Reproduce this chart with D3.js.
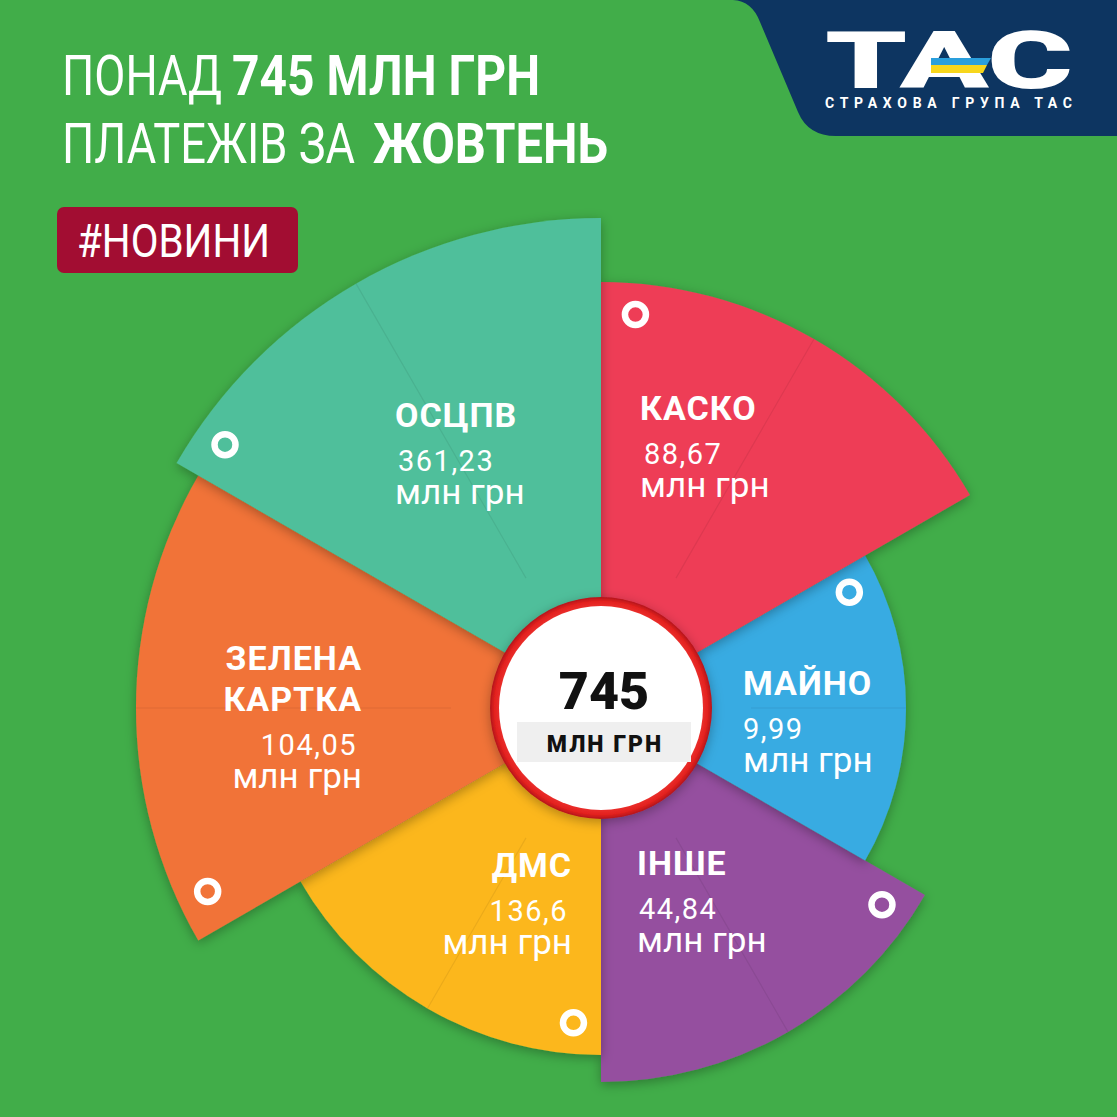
<!DOCTYPE html>
<html>
<head>
<meta charset="utf-8">
<script src="https://cdn.jsdelivr.net/npm/d3@7"></script>
<style>
  body { margin: 0; background: #41ad49; }
  svg { display: block; font-family: Roboto, "DejaVu Sans", sans-serif; }
</style>
</head>
<body>
<svg id="chart" width="1117" height="1117"></svg>
<script>
// chart data
const categories = ["КАСКО", "МАЙНО", "ІНШЕ", "ДМС", "ЗЕЛЕНА КАРТКА", "ОСЦПВ"];
const values = [88.67, 9.99, 44.84, 136.6, 104.05, 361.23];
const valueLabels = ["88,67", "9,99", "44,84", "136,6", "104,05", "361,23"];
const totalLabel = "745";
const unitLabel = "млн грн";

// styling / layout
const colors = ["#ee3d57", "#37abe2", "#954f9f", "#fcb71e", "#f17337", "#50bf9b"];
const outerRadii = [426, 305, 374, 347, 465, 490];
const drawOrder = ["ІНШЕ", "МАЙНО", "КАСКО", "ДМС", "ЗЕЛЕНА КАРТКА", "ОСЦПВ"];
// label anchor offsets from the centre: [dx, dy, text-anchor, value dx]
const labelPos = [[39, -288, "start", 4], [142, -13, "start", 0], [36, 167, "start", 2],
                  [-29, 169, "end", -4], [-239, -38, "end", -5], [-206, -281, "start", 3]];

const cx = 601, cy = 708;
const svg = d3.select("#chart");

var color = d3.scaleOrdinal().domain(categories).range(colors);
var radius = d3.scaleOrdinal().domain(categories).range(outerRadii);
var labelAt = d3.scaleOrdinal().domain(categories).range(labelPos);

// ---- defs
const defs = svg.append("defs");
const sh = defs.append("filter").attr("id", "shadow")
  .attr("x", "-20%").attr("y", "-20%").attr("width", "140%").attr("height", "140%");
sh.append("feDropShadow").attr("dx", 0).attr("dy", 3)
  .attr("stdDeviation", 6).attr("flood-color", "#000").attr("flood-opacity", 0.3);

const rg = defs.append("radialGradient").attr("id", "ring");
rg.append("stop").attr("offset", "88%").attr("stop-color", "#f03a35");
rg.append("stop").attr("offset", "96%").attr("stop-color", "#e3211f");
rg.append("stop").attr("offset", "100%").attr("stop-color", "#b3151a");

// ---- background
svg.append("rect").attr("width", 1117).attr("height", 1117).attr("fill", "#41ad49");

// ---- logo block
svg.append("path")
  .attr("d", "M733,0 Q752,1 760,22 L798,112 Q808,136 836,136 L1117,136 L1117,0 Z")
  .attr("fill", "#0d3561");
svg.append("text")
  .attr("x", 825).attr("y", 88)
  .attr("font-size", 80).attr("font-weight", 900)
  .attr("textLength", 248).attr("lengthAdjust", "spacingAndGlyphs")
  .attr("fill", "#fff").text("ТАС");
svg.append("polygon").attr("points", "931,58 991,58 987,65 931,65").attr("fill", "#2a9fdc");
svg.append("polygon").attr("points", "931,65 987,65 983,73 931,73").attr("fill", "#f7d61c");
svg.append("text")
  .attr("x", 825).attr("y", 108)
  .attr("font-size", 14).attr("font-weight", 700)
  .attr("textLength", 247).attr("lengthAdjust", "spacing")
  .attr("fill", "#fff").text("СТРАХОВА ГРУПА ТАС");

// ---- title
function titlePart(x, y, str, len, weight) {
  svg.append("text")
    .attr("x", x).attr("y", y)
    .attr("font-size", 56).attr("font-weight", weight)
    .attr("textLength", len).attr("lengthAdjust", "spacingAndGlyphs")
    .attr("fill", "#fff").text(str);
}
titlePart(62, 95, "ПОНАД", 160, 400);
titlePart(232, 95, "745 МЛН ГРН", 308, 700);
titlePart(62, 163, "ПЛАТЕЖІВ ЗА", 293, 400);
titlePart(373, 163, "ЖОВТЕНЬ", 235, 700);

// hashtag
svg.append("rect")
  .attr("x", 57).attr("y", 207).attr("width", 241).attr("height", 66)
  .attr("rx", 7).attr("fill", "#a20d32");
svg.append("text")
  .attr("x", 77).attr("y", 257)
  .attr("font-size", 46).attr("font-weight", 400)
  .attr("textLength", 193).attr("lengthAdjust", "spacingAndGlyphs")
  .attr("fill", "#fff").text("#НОВИНИ");

// ---- sectors
const data = categories.map((c, i) => ({ cat: c, value: values[i], label: valueLabels[i] }));

// every sector takes the same angle in the design
const pie = d3.pie().sort(null).value(() => 1);
const arcs = pie(data);
const arc = d3.arc().innerRadius(0).outerRadius(d => radius(d.data.cat));

const g = svg.append("g").attr("transform", `translate(${cx},${cy})`);

const ordered = drawOrder.map(c => arcs.find(a => a.data.cat === c));

const sector = g.selectAll("g.sector")
  .data(ordered)
  .join("g")
  .attr("class", "sector");

sector.append("path")
  .attr("d", arc)
  .attr("fill", d => color(d.data.cat))
  .attr("filter", "url(#shadow)");

// faint fold line at the middle of each slice
sector.append("line")
  .each(function(d) {
    const a = (d.startAngle + d.endAngle) / 2;
    const p0 = d3.pointRadial(a, 150);
    const p1 = d3.pointRadial(a, radius(d.data.cat));
    d3.select(this)
      .attr("x1", p0[0]).attr("y1", p0[1])
      .attr("x2", p1[0]).attr("y2", p1[1]);
  })
  .attr("stroke", "#000").attr("stroke-opacity", 0.07).attr("stroke-width", 1.2);

// small ring markers near each slice's edge
sector.append("circle")
  .attr("transform", d => {
    const p = d3.pointRadial(d.startAngle + 5 * Math.PI / 180, radius(d.data.cat) - 31);
    return `translate(${p[0]},${p[1]})`;
  })
  .attr("r", 10.5)
  .attr("fill", "none")
  .attr("stroke", "#fff")
  .attr("stroke-width", 6.5);

// labels
const lab = g.selectAll("g.label")
  .data(arcs)
  .join("g")
  .attr("class", "label")
  .attr("transform", d => `translate(${labelAt(d.data.cat)[0]},${labelAt(d.data.cat)[1]})`)
  .attr("text-anchor", d => labelAt(d.data.cat)[2])
  .attr("fill", "#fff");

lab.each(function(d) {
  const el = d3.select(this);
  const words = d.data.cat.split(" ");
  words.forEach((w, i) => {
    el.append("text")
      .attr("y", i * 41)
      .attr("font-size", 34).attr("font-weight", 700)
      .attr("letter-spacing", 1)
      .text(w);
  });
  const off = (words.length - 1) * 41;
  el.append("text")
    .attr("y", off + 44)
    .attr("dx", labelAt(d.data.cat)[3])
    .attr("font-size", 29).attr("font-weight", 400)
    .attr("letter-spacing", 1.5)
    .text(d.data.label);
  el.append("text")
    .attr("y", off + 77)
    .attr("font-size", 35).attr("font-weight", 400)
    .text(unitLabel);
});

// ---- centre badge
const c = svg.append("g").attr("transform", `translate(${cx},${cy})`);
c.append("circle").attr("r", 111).attr("fill", "url(#ring)").attr("filter", "url(#shadow)");
c.append("circle").attr("r", 102).attr("fill", "#fff");
c.append("text")
  .attr("x", 3).attr("y", 1)
  .attr("text-anchor", "middle")
  .attr("font-size", 52).attr("font-weight", 900)
  .attr("fill", "#111").text(totalLabel);
c.append("rect")
  .attr("x", -84).attr("y", 14).attr("width", 174).attr("height", 40)
  .attr("fill", "#efefef");
c.append("text")
  .attr("x", 4).attr("y", 44)
  .attr("text-anchor", "middle")
  .attr("font-size", 23).attr("font-weight", 900)
  .attr("letter-spacing", 2)
  .attr("fill", "#111").text(unitLabel.toUpperCase());
</script>
</body>
</html>
